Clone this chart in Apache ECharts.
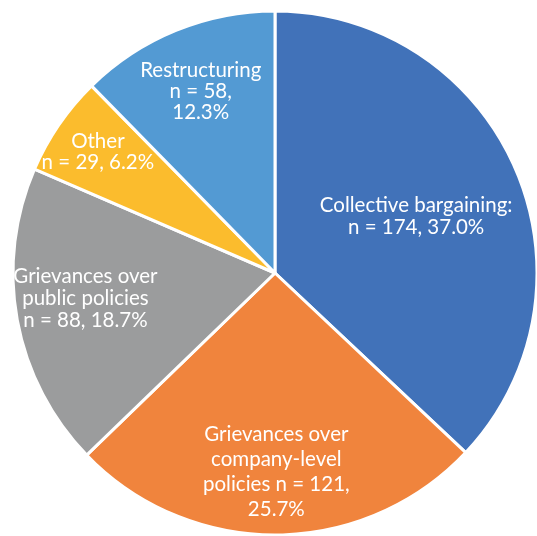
<!DOCTYPE html>
<html>
<head>
<meta charset="utf-8">
<script src="https://cdn.jsdelivr.net/npm/echarts@6/dist/echarts.min.js"></script>
<style>
  html, body { margin: 0; padding: 0; background: #ffffff; }
  #chart { width: 537px; height: 536px; }
</style>
</head>
<body>
<div id="chart"></div>
<script>
// Reasons for industrial action, counted by case
const categories = [
  'Collective bargaining',
  'Grievances over company-level policies',
  'Grievances over public policies',
  'Other',
  'Restructuring'
];
const counts = [174, 121, 88, 29, 58];

// Label text per slice; {n} = count, {p} = share of total
const labelTemplates = [
  'Collective bargaining:\nn = {n}, {p}',
  'Grievances over\ncompany-level\npolicies n = {n},\n{p}',
  'Grievances over\npublic policies\nn = {n}, {p}',
  'Other\nn = {n}, {p}',
  'Restructuring\nn = {n},\n{p}'
];

const colors = ['#4172b9', '#f0843d', '#9b9c9d', '#fbbc2d', '#539ad3'];
// Label placement: distance out along the slice's mid-angle (fraction of radius)
// plus a small angular nudge in degrees (clockwise positive)
const labelRadiusFrac = [0.58, 0.76, 0.73, 0.82, 0.75];
const labelAngleNudge = [1.6, 0, 2.7, 0, 0];
const lineHeights = [22, 25, 22, 21, 21];

const CX = 275, CY = 273, R = 262;
const total = counts.reduce((a, b) => a + b, 0);

const chart = echarts.init(document.getElementById('chart'), null, { renderer: 'canvas' });

chart.setOption({
  animation: false,
  color: colors,
  series: [{
    type: 'pie',
    center: [CX, CY],
    radius: [0, R],
    startAngle: 90,
    clockwise: true,
    avoidLabelOverlap: false,
    itemStyle: { borderColor: '#ffffff', borderWidth: 3 },
    label: {
      show: true,
      position: 'inside',
      color: '#ffffff',
      fontFamily: 'Lato',
      fontSize: 20.5,
      align: 'center',
      formatter: function (p) {
        const pct = (p.value / total * 100).toFixed(1) + '%';
        return labelTemplates[p.dataIndex].replace('{n}', p.value).replace('{p}', pct);
      }
    },
    labelLine: { show: false },
    emphasis: { disabled: true },
    labelLayout: function (params) {
      const i = params.dataIndex;
      let before = 0;
      for (let k = 0; k < i; k++) before += counts[k];
      const mid = (before + counts[i] / 2) / total * Math.PI * 2
        + labelAngleNudge[i] * Math.PI / 180;
      const d = labelRadiusFrac[i] * R;
      return {
        x: CX + d * Math.sin(mid),
        y: CY - d * Math.cos(mid),
        align: 'center',
        verticalAlign: 'middle'
      };
    },
    data: categories.map((name, i) => ({
      name: name,
      value: counts[i],
      label: { lineHeight: lineHeights[i] }
    }))
  }]
});
</script>
</body>
</html>
